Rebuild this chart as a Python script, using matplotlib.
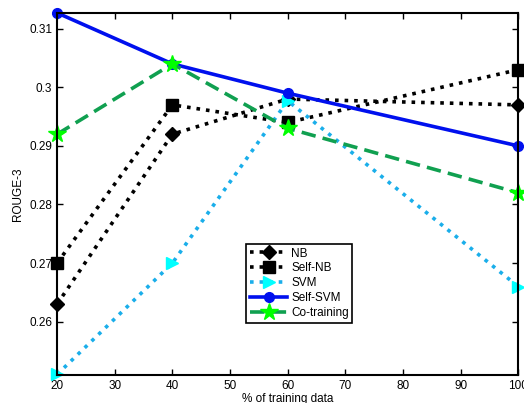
import matplotlib
matplotlib.use("Agg")
import matplotlib.pyplot as plt

plt.rcParams["font.family"] = ["Liberation Sans", "DejaVu Sans"]

pct = [20, 40, 60, 100]
nb = [0.263, 0.292, 0.298, 0.297]
self_nb = [0.270, 0.297, 0.294, 0.303]
svm = [0.251, 0.270, 0.2977, 0.266]
self_svm = [0.3127, 0.304, 0.299, 0.290]
co_training = [0.292, 0.304, 0.293, 0.282]

x_ticks = [20, 30, 40, 50, 60, 70, 80, 90, 100]
y_ticks = [0.26, 0.27, 0.28, 0.29, 0.30, 0.31]
y_ticklabels = ["0.26", "0.27", "0.28", "0.29", "0.3", "0.31"]

fig = plt.figure(figsize=(5.24, 4.03), dpi=100)
ax = fig.add_axes([0.109, 0.0695, 0.880, 0.8985])

ax.plot(pct, nb, linestyle=":", color="black", lw=2.6, marker="D",
        markersize=7, markerfacecolor="black", label="NB", clip_on=False)
ax.plot(pct, self_nb, linestyle=":", color="black", lw=2.6, marker="s",
        markersize=8, markerfacecolor="black", label="Self-NB", clip_on=False)
ax.plot(pct, svm, linestyle=":", color="#1aaeea", lw=2.6, marker=">",
        markersize=9, markerfacecolor="cyan", markeredgecolor="cyan",
        label="SVM", clip_on=False)
ax.plot(pct, self_svm, linestyle="-", color="#0010ee", lw=2.6, marker="o",
        markersize=7, markerfacecolor="#0010ee", markeredgecolor="#0010ee",
        label="Self-SVM", clip_on=False)
ax.plot(pct, co_training, linestyle="--", color="#10a050", lw=2.6,
        dashes=(4, 2), marker="*", markersize=13, markerfacecolor="#00ff00",
        markeredgecolor="#00ff00", label="Co-training", clip_on=False)

ax.set_xlim(20, 100)
ax.set_ylim(0.2509, 0.3127)
ax.set_xticks(x_ticks)
ax.set_yticks(y_ticks)
ax.set_yticklabels(y_ticklabels)
ax.tick_params(direction="in", top=True, right=True, labelsize=8.5,
               length=4, width=1)
for s in ax.spines.values():
    s.set_linewidth(1.5)

ax.set_xlabel("% of training data", fontsize=8.5, labelpad=1)
ax.set_ylabel("ROUGE-3", fontsize=8.5, labelpad=4)

leg = ax.legend(loc="lower left", bbox_to_anchor=(0.41, 0.144), fontsize=8.5,
                fancybox=False, framealpha=1, edgecolor="black",
                borderpad=0.3, labelspacing=0.25, handlelength=3.2,
                handletextpad=0.3, borderaxespad=0)
leg.get_frame().set_linewidth(1.2)

fig.savefig("out.png", dpi=100)
